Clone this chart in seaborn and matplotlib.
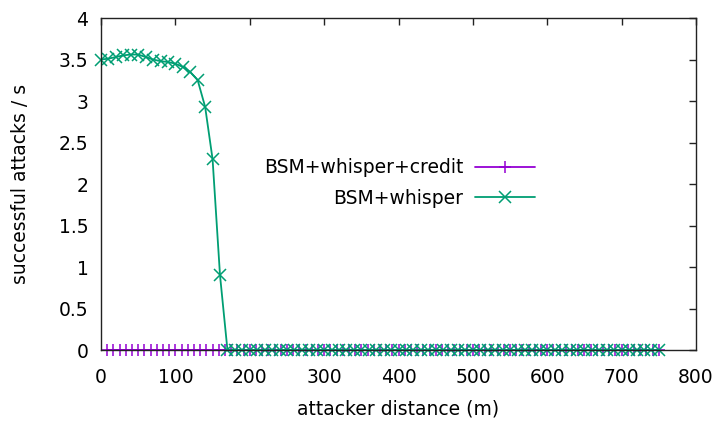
import numpy as np
import matplotlib
matplotlib.use("Agg")
import matplotlib.pyplot as plt
import seaborn as sns
from matplotlib.ticker import FormatStrFormatter

# BSM+whisper+credit: sampled every 25/3 m, all zero
credit_x = np.linspace(750 / 90, 750, 90)
credit_y = [
    0, 0, 0, 0, 0, 0, 0, 0, 0, 0, 0, 0, 0, 0, 0, 0, 0, 0, 0, 0, 0, 0, 0, 0, 0, 0, 0, 0, 0, 0,
    0, 0, 0, 0, 0, 0, 0, 0, 0, 0, 0, 0, 0, 0, 0, 0, 0, 0, 0, 0, 0, 0, 0, 0, 0, 0, 0, 0, 0, 0,
    0, 0, 0, 0, 0, 0, 0, 0, 0, 0, 0, 0, 0, 0, 0, 0, 0, 0, 0, 0, 0, 0, 0, 0, 0, 0, 0, 0, 0, 0,
]

# BSM+whisper: sampled every 10 m from 0 to 750
whisper_x = np.arange(0, 751, 10)
whisper_y = [
    3.50, 3.51, 3.53, 3.55, 3.56, 3.56, 3.53, 3.50, 3.48, 3.47,
    3.45, 3.41, 3.35, 3.25, 2.93, 2.30, 0.90, 0, 0, 0,
    0, 0, 0, 0, 0, 0, 0, 0, 0, 0, 0, 0, 0, 0, 0, 0, 0, 0, 0, 0,
    0, 0, 0, 0, 0, 0, 0, 0, 0, 0, 0, 0, 0, 0, 0, 0, 0, 0, 0, 0,
    0, 0, 0, 0, 0, 0, 0, 0, 0, 0, 0, 0, 0, 0, 0, 0,
]

x_ticks = [0, 100, 200, 300, 400, 500, 600, 700, 800]
y_ticks = [0, 0.5, 1, 1.5, 2, 2.5, 3, 3.5, 4]

purple = "#9400D3"
green = "#009E73"
FS = 13.5

sns.set_style("white")
plt.rcParams["font.family"] = ["DejaVu Sans"]
plt.rcParams["text.color"] = "black"
plt.rcParams["axes.labelcolor"] = "black"

fig = plt.figure(figsize=(7.23, 4.36), dpi=100)
ax = fig.add_axes([0.1397, 0.1972, 0.8230, 0.7615])

sns.lineplot(x=credit_x, y=credit_y, ax=ax, color=purple, lw=1.3,
             marker="+", markersize=9, markeredgewidth=1.1,
             markeredgecolor=purple, markerfacecolor=purple,
             label="BSM+whisper+credit", clip_on=False)
sns.lineplot(x=whisper_x, y=whisper_y, ax=ax, color=green, lw=1.3,
             marker="x", markersize=9, markeredgewidth=1.1,
             markeredgecolor=green, markerfacecolor=green,
             label="BSM+whisper", clip_on=False)

ax.set_xlim(0, 800)
ax.set_ylim(0, 4)
ax.set_xticks(x_ticks)
ax.set_yticks(y_ticks)
ax.yaxis.set_major_formatter(FormatStrFormatter("%g"))
ax.tick_params(direction="in", length=5, width=1, labelsize=FS,
               top=True, right=True, color="#222222", labelcolor="black")
ax.tick_params(axis="x", pad=13)
ax.tick_params(axis="y", pad=9)
for s in ax.spines.values():
    s.set_color("#222222")
    s.set_linewidth(1)

ax.set_xlabel("attacker distance (m)", fontsize=FS, labelpad=9)
ax.set_ylabel("successful attacks / s", fontsize=FS, labelpad=21)

ax.legend(loc="center right", bbox_to_anchor=(0.729, 0.503), frameon=False,
          markerfirst=False, fontsize=FS, handlelength=3.2, handletextpad=0.6,
          labelspacing=0.6, borderpad=0, borderaxespad=0)

fig.savefig("out.png", dpi=100)
